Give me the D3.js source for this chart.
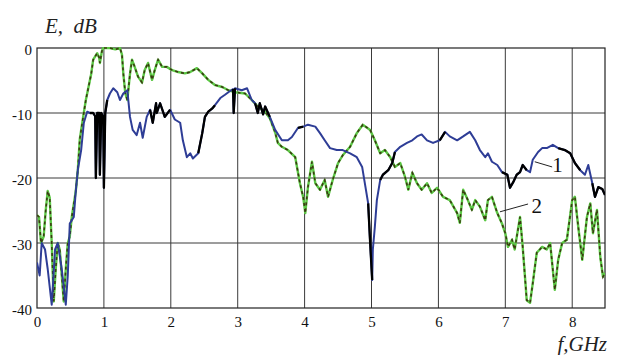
<!DOCTYPE html>
<html><head><meta charset="utf-8">
<script src="https://cdn.jsdelivr.net/npm/d3@7"></script>
<style>
html,body{margin:0;padding:0;background:#fff;}
svg{display:block;}
svg text{font-family:"Liberation Serif","DejaVu Serif","Noto Serif",serif;}
</style></head>
<body>
<svg id="c" width="618" height="355"></svg>
<script>
// ---- data ----
const xTicks = [0,1,2,3,4,5,6,7,8];
const yTicks = [0,-10,-20,-30,-40];
const xLabel = "f,GHz";
const yLabel = "E,  dB";

// curve 1 (GHz, dB)
const curve1F = [0.00,0.04,0.07,0.12,0.16,0.22,0.27,0.31,0.37,0.43,0.46,0.49,0.55,0.58,0.61,0.66,0.70,0.75,0.79,0.84,0.87,0.88,0.90,0.93,0.94,0.96,0.99,1.00,1.02,1.05,1.09,1.14,1.20,1.24,1.29,1.35,1.39,1.43,1.49,1.54,1.58,1.64,1.69,1.73,1.78,1.79,1.84,1.91,1.99,2.06,2.14,2.18,2.24,2.29,2.33,2.41,2.47,2.51,2.56,2.62,2.66,2.74,2.81,2.86,2.93,2.94,2.96,3.06,3.14,3.21,3.26,3.30,3.33,3.38,3.41,3.48,3.56,3.66,3.75,3.81,3.90,3.98,4.05,4.16,4.23,4.30,4.38,4.48,4.57,4.68,4.78,4.86,4.90,4.95,4.98,5.01,5.02,5.05,5.08,5.13,5.17,5.25,5.31,5.35,5.43,5.53,5.61,5.68,5.75,5.83,5.92,6.02,6.10,6.17,6.28,6.37,6.47,6.55,6.62,6.70,6.74,6.80,6.88,6.95,7.03,7.07,7.12,7.17,7.22,7.26,7.32,7.37,7.41,7.49,7.55,7.62,7.71,7.79,7.89,7.97,8.04,8.12,8.19,8.24,8.30,8.34,8.39,8.45,8.49];
const curve1DB = [-33,-35,-30,-31,-34,-39.5,-31,-30,-34,-39.5,-35,-27,-26,-22,-18.8,-15.7,-11.5,-9.8,-10,-10,-10.5,-20,-10,-10,-19.5,-10,-10.5,-21.5,-10,-8,-7,-6.2,-6.8,-8,-7,-6.5,-10.6,-12.6,-13.4,-11.5,-13.8,-10.6,-9.5,-11.5,-8.5,-10,-8.5,-10.6,-9.5,-11,-11.5,-14.2,-16.8,-16.2,-17,-16.2,-13.1,-10.6,-9.8,-9.3,-8.8,-7.7,-7.2,-6.8,-6.3,-10,-6.2,-6.5,-6.2,-8,-8.5,-10,-8.5,-10.2,-9,-10.6,-12.6,-14.2,-14.2,-13.7,-12.3,-12.1,-11.8,-12.1,-13.1,-14.2,-15.4,-15.7,-15.7,-16.2,-16.8,-18.3,-20.8,-23.9,-30,-35.7,-31,-27.5,-23.4,-20.3,-19.5,-18.8,-17.7,-16,-15.2,-14.6,-14.2,-13.6,-13.3,-14.2,-14.6,-14.2,-12.9,-13.6,-14.2,-13.6,-12.9,-14.2,-15.7,-16.8,-16.2,-17.5,-18,-19.1,-19.5,-21.5,-20.6,-19.5,-19.1,-18,-18.8,-19.1,-17.2,-16,-15.4,-15.4,-14.9,-15.4,-15.7,-16.2,-17.7,-18.8,-19.5,-18,-20.8,-22.9,-21.4,-21.7,-22.6];
// ranges of curve 1 drawn in black (GHz)
const curve1BlackRanges = [[0.76,1.05],[1.66,2.0],[2.39,2.66],[2.92,2.97],[3.26,3.48],[3.89,3.98],[4.93,5.01],[5.13,5.35],[5.98,6.13],[6.92,7.32],[7.79,8.15],[8.30,8.49]];

// curve 2 (GHz, dB)
const curve2F = [0.00,0.03,0.06,0.10,0.13,0.16,0.19,0.22,0.25,0.28,0.31,0.34,0.37,0.40,0.43,0.46,0.49,0.52,0.58,0.61,0.64,0.69,0.73,0.76,0.81,0.84,0.90,0.93,0.94,0.97,0.99,1.09,1.17,1.24,1.27,1.29,1.32,1.35,1.36,1.39,1.42,1.46,1.51,1.57,1.61,1.66,1.72,1.76,1.81,1.87,1.94,2.02,2.11,2.21,2.29,2.39,2.47,2.56,2.66,2.77,2.86,2.96,3.11,3.21,3.30,3.41,3.48,3.56,3.60,3.66,3.75,3.86,3.93,3.98,4.01,4.05,4.11,4.16,4.23,4.30,4.35,4.42,4.50,4.57,4.68,4.78,4.87,4.98,5.05,5.13,5.20,5.28,5.35,5.43,5.50,5.55,5.61,5.68,5.75,5.83,5.90,5.98,6.07,6.17,6.28,6.32,6.37,6.44,6.50,6.55,6.62,6.70,6.74,6.80,6.88,6.95,7.00,7.04,7.10,7.14,7.22,7.26,7.32,7.37,7.41,7.47,7.55,7.62,7.67,7.74,7.79,7.85,7.92,8.00,8.04,8.09,8.15,8.22,8.27,8.31,8.37,8.42,8.46,8.49];
const curve2DB = [-25.7,-26,-30,-29,-25,-22,-23,-30,-39,-34,-30,-31,-35,-39,-34,-30,-29,-26,-22,-18.8,-14,-10.6,-8,-6.5,-4,-1.8,-0.8,-1.5,-2.3,-0.5,0,0,-0.2,0,-1,-3.9,-7,-8,-7,-4,-1.8,-2.9,-4.4,-5.3,-3.4,-2.3,-4.9,-3.4,-1.8,-2.9,-2.9,-3.4,-3.7,-3.9,-3.7,-3.1,-3.9,-4.9,-5.7,-6,-6.5,-6.8,-7,-8,-9,-9.8,-10.8,-13,-14.6,-15.2,-15.7,-16.8,-20.8,-23,-25.4,-21.4,-17.5,-20.8,-21.8,-20.3,-22.9,-20.3,-17.7,-16.5,-15.2,-13.1,-11.8,-12.6,-14.2,-16.2,-15.7,-16.8,-18.3,-17.7,-19.8,-21.8,-19.2,-20.8,-21.8,-20.8,-22.3,-21.5,-22.9,-23.4,-25.4,-26.9,-21.8,-23.4,-24.9,-23.4,-24.4,-26.5,-23.4,-22.9,-25.4,-27,-28.5,-30.6,-29.5,-31,-26,-30.6,-38.8,-39.2,-36.2,-31.5,-30.6,-31,-30,-37.2,-32.6,-30,-29.5,-23.4,-22.9,-27.5,-32.6,-26,-23.9,-28.5,-24.9,-32.2,-35.2,-34.6];

// annotations: label, leader start (GHz,dB), leader end, text pos
const annLabels = ["1","2"];
const annStart = [[7.44,-17.5],[6.92,-25.2]];
const annEnd = [[7.70,-18.3],[7.34,-24.0]];
const annText = [[7.78,-19.1],[7.47,-25.4]];

// ---- drawing ----
const svg = d3.select("#c");
const L = 37, R = 605, T = 48, B = 308;
const x = d3.scaleLinear().domain([0, 8.49]).range([L, R]);
const y = d3.scaleLinear().domain([0, -40]).range([T, B]);
const serif = '"Liberation Serif","DejaVu Serif","Noto Serif",serif';

// grid
const g = svg.append("g");
g.selectAll("line.vx").data(xTicks.filter(d => d > 0)).join("line")
  .attr("x1", d => x(d)).attr("x2", d => x(d)).attr("y1", T).attr("y2", B)
  .attr("stroke", "#3a3a3a").attr("stroke-width", 1);
g.selectAll("line.hy").data(yTicks.filter(d => d < 0 && d > -40)).join("line")
  .attr("x1", L).attr("x2", R).attr("y1", d => y(d)).attr("y2", d => y(d))
  .attr("stroke", "#3a3a3a").attr("stroke-width", 1);

// axes labels via d3 axes
const xa = svg.append("g").attr("transform", `translate(0,${B})`)
  .call(d3.axisBottom(x).tickValues(xTicks).tickSize(0).tickPadding(8).tickFormat(d => String(d)));
xa.attr("font-family", null).attr("font-size", null);
xa.select(".domain").remove();
xa.selectAll("text").style("font-family", serif).style("font-size", "15px").attr("fill", "#111");

const ya = svg.append("g").attr("transform", `translate(${L},0)`)
  .call(d3.axisLeft(y).tickValues(yTicks).tickSize(0).tickPadding(5).tickFormat(d => String(d)));
ya.attr("font-family", null).attr("font-size", null);
ya.select(".domain").remove();
ya.selectAll("text").style("font-family", serif).style("font-size", "15px").attr("fill", "#111").attr("dy", "0.45em");

// frame
svg.append("rect").attr("x", L).attr("y", T).attr("width", R - L).attr("height", B - T)
  .attr("fill", "none").attr("stroke", "#222").attr("stroke-width", 1.2);

// curves
const c1 = curve1F.map((f, i) => ({f, v: curve1DB[i]}));
const c2 = curve2F.map((f, i) => ({f, v: curve2DB[i]}));
const line = d3.line().x(d => x(d.f)).y(d => y(d.v));
const inBlack = f => curve1BlackRanges.some(r => f >= r[0] - 1e-9 && f <= r[1] + 1e-9);

svg.append("clipPath").attr("id", "pc").append("rect")
  .attr("x", L).attr("y", T - 1).attr("width", R - L).attr("height", B - T + 2);
const pg = svg.append("g").attr("clip-path", "url(#pc)");

// curve 2: green with dark dashed overlay
pg.append("path").datum(c2).attr("d", line).attr("fill", "none")
  .attr("stroke", "#5cc845").attr("stroke-width", 2.4).attr("stroke-linejoin", "round");
pg.append("path").datum(c2).attr("d", line).attr("fill", "none")
  .attr("stroke", "#3b3a12").attr("stroke-width", 1.6).attr("stroke-dasharray", "3,3");

// curve 1: blue with black parts
pg.append("path").datum(c1).attr("d", line).attr("fill", "none")
  .attr("stroke", "#2e3d96").attr("stroke-width", 2).attr("stroke-linejoin", "round");
pg.append("path").datum(c1).attr("d", d3.line().defined(d => inBlack(d.f)).x(d => x(d.f)).y(d => y(d.v)))
  .attr("fill", "none").attr("stroke", "#000").attr("stroke-width", 2.3).attr("stroke-linejoin", "round");

// annotations
annLabels.forEach((lab, i) => {
  svg.append("line")
    .attr("x1", x(annStart[i][0])).attr("y1", y(annStart[i][1]))
    .attr("x2", x(annEnd[i][0])).attr("y2", y(annEnd[i][1]))
    .attr("stroke", "#222").attr("stroke-width", 1);
  svg.append("text").attr("x", x(annText[i][0])).attr("y", y(annText[i][1]))
    .attr("text-anchor", "middle").style("font-family", serif).style("font-size", "21px")
    .attr("fill", "#111").text(lab);
});

// axis titles
svg.append("text").attr("x", 45).attr("y", 33).style("font-family", serif)
  .style("font-style", "italic").style("font-size", "21px").attr("fill", "#222")
  .style("white-space", "pre").text(yLabel);
svg.append("text").attr("x", 607).attr("y", 351).attr("text-anchor", "end").style("font-family", serif)
  .style("font-style", "italic").style("font-size", "21px").attr("fill", "#222").text(xLabel);
</script>
</body></html>
